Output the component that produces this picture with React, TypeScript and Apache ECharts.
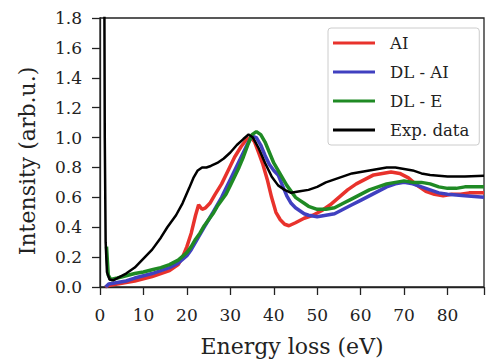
import React, { useEffect, useRef } from "react";
import * as echarts from "echarts";

const xTicks = [0, 10, 20, 30, 40, 50, 60, 70, 80];
const yTicks = [0.0, 0.2, 0.4, 0.6, 0.8, 1.0, 1.2, 1.4, 1.6, 1.8];
const seriesNames = ["AI", "DL - AI", "DL - E", "Exp. data"];

const aiData: number[][] = [
  [1.2, 0.0], [2, 0.01], [4, 0.02], [6, 0.03], [8, 0.04], [10, 0.055], [12, 0.07], [14, 0.09],
  [16, 0.11], [18, 0.15], [19, 0.2], [20, 0.27], [21, 0.36], [22, 0.48], [22.7, 0.55], [23.5, 0.52],
  [24.3, 0.53], [25.3, 0.56], [26.5, 0.62], [28, 0.69], [29.5, 0.78], [31, 0.87], [32.5, 0.94],
  [33.8, 0.99], [34.8, 1.0], [35.6, 0.97], [36.5, 0.9], [37.5, 0.82], [38.5, 0.72], [39.5, 0.6],
  [40.5, 0.5], [41.5, 0.45], [42.5, 0.42], [43.5, 0.41], [45, 0.43], [47, 0.46], [49, 0.48],
  [51, 0.51], [53, 0.55], [55, 0.6], [57, 0.65], [59, 0.69], [61, 0.72], [63, 0.75], [65, 0.76],
  [67, 0.77], [69, 0.76], [71, 0.73], [73, 0.68], [75, 0.64], [77, 0.62], [79, 0.61], [81, 0.62],
  [83, 0.62], [85, 0.63], [88.4, 0.63],
];

const dlAiData: number[][] = [
  [1.3, 0.0], [2, 0.02], [4, 0.03], [6, 0.04], [8, 0.06], [10, 0.075], [12, 0.09], [14, 0.11],
  [16, 0.13], [18, 0.16], [20, 0.21], [21, 0.25], [22, 0.3], [23, 0.35], [24, 0.4], [25, 0.45],
  [26, 0.5], [27, 0.55], [28, 0.6], [29, 0.66], [30, 0.72], [31, 0.78], [32, 0.84], [33, 0.9],
  [34, 0.96], [35, 1.01], [36, 1.0], [37, 0.95], [38, 0.88], [39, 0.82], [40, 0.78], [41, 0.75],
  [42, 0.68], [43, 0.61], [44, 0.56], [45, 0.53], [46, 0.51], [47, 0.49], [48, 0.48], [50, 0.47],
  [52, 0.48], [54, 0.49], [56, 0.52], [58, 0.55], [60, 0.58], [62, 0.61], [64, 0.64], [66, 0.67],
  [68, 0.69], [70, 0.7], [72, 0.69], [74, 0.67], [76, 0.65], [78, 0.63], [80, 0.62], [82, 0.615],
  [84, 0.61], [88.4, 0.6],
];

const dlEData: number[][] = [
  [1.5, 0.27], [1.9, 0.08], [2.5, 0.05], [4, 0.06], [6, 0.075], [8, 0.09], [10, 0.1],
  [12, 0.115], [14, 0.13], [16, 0.15], [18, 0.18], [20, 0.23], [21, 0.27], [22, 0.32], [23, 0.36],
  [24, 0.41], [25, 0.45], [26, 0.49], [27, 0.54], [28, 0.58], [29, 0.62], [30, 0.68], [31, 0.74],
  [32, 0.8], [33, 0.87], [34, 0.95], [35, 1.02], [36, 1.04], [37, 1.02], [38, 0.97], [39, 0.9],
  [40, 0.83], [41, 0.78], [42, 0.73], [43, 0.68], [44, 0.64], [45, 0.6], [46, 0.58], [47, 0.56],
  [48, 0.54], [50, 0.52], [52, 0.52], [54, 0.53], [56, 0.56], [58, 0.59], [60, 0.62], [62, 0.65],
  [64, 0.67], [66, 0.69], [68, 0.7], [70, 0.71], [72, 0.7], [74, 0.7], [76, 0.69], [78, 0.67],
  [80, 0.66], [82, 0.66], [84, 0.67], [88.4, 0.67],
];

const expData: number[][] = [
  [0.9, 3.0], [1.1, 1.0], [1.3, 0.3], [1.6, 0.1], [2.2, 0.05], [3, 0.045], [4, 0.06], [6, 0.09],
  [8, 0.13], [10, 0.19], [12, 0.25], [14, 0.33], [15.5, 0.4], [16.5, 0.44], [17.5, 0.48], [19, 0.56],
  [20.5, 0.66], [21.5, 0.73], [22.5, 0.78], [23.5, 0.8], [24.5, 0.8], [25.5, 0.81], [27, 0.83],
  [28.5, 0.86], [30, 0.9], [31.5, 0.95], [33, 0.99], [34.2, 1.02], [35.2, 1.0], [36.5, 0.93],
  [38, 0.83], [39.5, 0.74], [41, 0.68], [42.5, 0.65], [44, 0.63], [46, 0.64], [48, 0.65], [50, 0.67],
  [52, 0.7], [54, 0.72], [56, 0.74], [58, 0.76], [60, 0.77], [62, 0.78], [64, 0.79], [66, 0.8],
  [68, 0.8], [70, 0.79], [72, 0.78], [74, 0.76], [76, 0.75], [78, 0.745], [80, 0.74], [82, 0.74],
  [84, 0.74], [88.4, 0.745],
];

const seriesData = [aiData, dlAiData, dlEData, expData];
const colors = ["#e8322c", "#4040c0", "#1f8a24", "#000000"];
const widths = [3.5, 3.5, 3.5, 2.5];

const FONT = "DejaVu Serif";

export default function App() {
  const ref = useRef<HTMLDivElement>(null);
  useEffect(() => {
    if (!ref.current) return;
    const chart = echarts.init(ref.current, null, { renderer: "svg" });
    chart.setOption({
      animation: false,
      backgroundColor: "#ffffff",
      grid: {
        left: 100,
        top: 18,
        bottom: 74,
        right: -18,
        show: true,
        borderColor: "#222",
        borderWidth: 1.3,
        backgroundColor: "transparent",
      },
      legend: {
        orient: "vertical",
        left: 328,
        top: 28,
        padding: [6, 10, 6, 5],
        icon: "rect",
        itemWidth: 42,
        itemHeight: 3,
        itemGap: 11,
        backgroundColor: "rgba(255,255,255,0.85)",
        borderColor: "#cccccc",
        borderWidth: 1,
        borderRadius: 3,
        data: seriesNames,
        textStyle: {
          fontFamily: FONT,
          fontSize: 16.5,
          color: "#222",
          lineHeight: 18,
          height: 18,
          padding: [0, 0, 0, 10],
        },
      },
      xAxis: {
        type: "value",
        min: 0,
        max: 88.4,
        interval: 10,
        name: "Energy loss (eV)",
        nameLocation: "middle",
        nameGap: 48,
        nameTextStyle: { fontFamily: FONT, fontSize: 22, color: "#222" },
        axisLine: { show: true, onZero: false, lineStyle: { color: "#222", width: 1.3 } },
        axisTick: { show: true, inside: false, length: 8, lineStyle: { color: "#222", width: 1.3 } },
        axisLabel: {
          fontFamily: FONT,
          fontSize: 17,
          color: "#222",
          margin: 19,
          formatter: (v: number) => (xTicks.includes(v) ? String(v) : ""),
        },
        splitLine: { show: false },
      },
      yAxis: {
        type: "value",
        min: 0,
        max: 1.8,
        interval: 0.2,
        axisLine: { show: true, onZero: false, lineStyle: { color: "#222", width: 1.3 } },
        axisTick: { show: true, inside: false, length: 8, lineStyle: { color: "#222", width: 1.3 } },
        axisLabel: {
          fontFamily: FONT,
          fontSize: 17,
          color: "#222",
          margin: 18,
          formatter: (v: number) => {
            const t = yTicks.find((y) => Math.abs(y - v) < 1e-6);
            return t === undefined ? "" : t.toFixed(1);
          },
        },
        splitLine: { show: false },
      },
      graphic: [
        {
          type: "text",
          x: 27,
          y: 161,
          rotation: Math.PI / 2,
          style: {
            text: "Intensity (arb.u.)",
            fontFamily: FONT,
            fontSize: 22,
            fill: "#222",
            align: "center",
            verticalAlign: "middle",
          },
        },
      ],
      series: seriesNames.map((name, i) => ({
        name,
        type: "line",
        data: seriesData[i],
        showSymbol: false,
        symbol: "none",
        clip: true,
        color: colors[i],
        itemStyle: { color: colors[i] },
        lineStyle: { color: colors[i], width: widths[i] },
        z: 2 + i,
      })),
    });
    return () => chart.dispose();
  }, []);
  return <div ref={ref} style={{ width: 487, height: 362, position: "absolute", left: 0, top: 0 }} />;
}
